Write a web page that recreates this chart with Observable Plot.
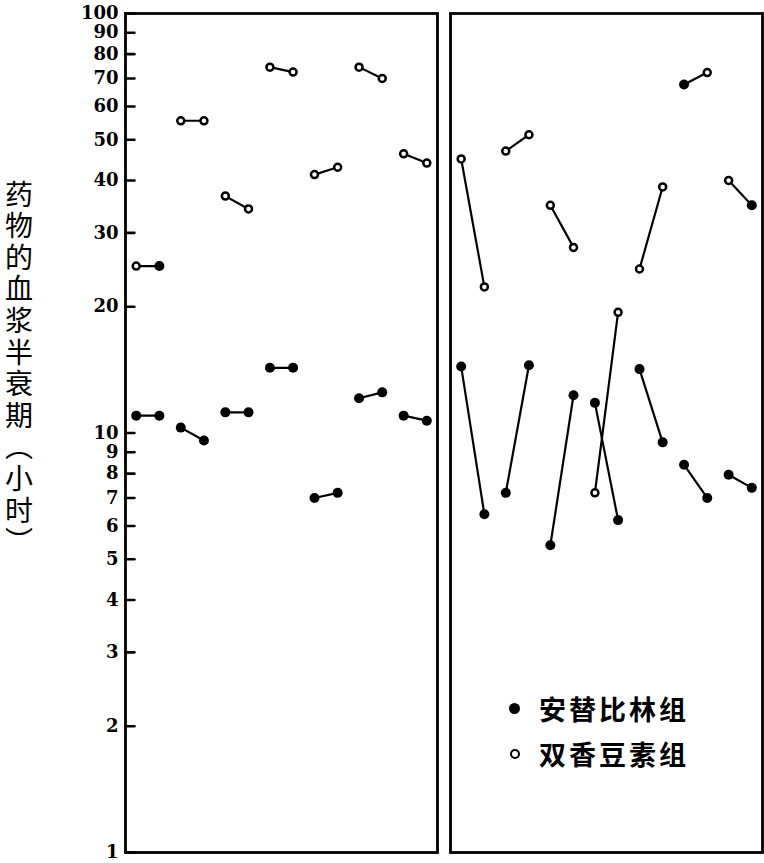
<!DOCTYPE html>
<html>
<head>
<meta charset="utf-8">
<script src="https://cdn.jsdelivr.net/npm/d3@7"></script>
<script src="https://cdn.jsdelivr.net/npm/@observablehq/plot@0.6"></script>
<style>
  body { margin: 0; background: #fff; }
  #wrap { position: relative; width: 764px; height: 863px; background: #fff; }
  #ytitle {
    position: absolute; left: 2px; top: 180px; width: 34px; height: 400px;
    writing-mode: vertical-rl; text-orientation: upright;
    font-family: "Noto Sans CJK SC"; font-size: 28px; line-height: 34px;
    letter-spacing: 3.6px; color: #000;
  }
  #legend { position: absolute; left: 509px; top: 686px; font-family: "Noto Sans CJK SC"; font-weight: bold; font-size: 27px; letter-spacing: 3px; color: #000; }
  #legend .row { height: 45px; display: flex; align-items: center; }
  #legend .sw { display: inline-block; box-sizing: border-box; border-radius: 50%; margin-right: 19px; }
  #legend .solid { width: 11px; height: 11px; background: #000; }
  #legend .open { width: 10px; height: 10px; border: 2.5px solid #000; background: #fff; margin-left: 1px; margin-right: 19px; }
</style>
</head>
<body>
<div id="wrap">
  <div id="ytitle">药物的血浆半衰期︵小时︶</div>
  <div id="legend">
    <div class="row"><span class="sw solid"></span>安替比林组</div>
    <div class="row"><span class="sw open"></span>双香豆素组</div>
  </div>
</div>
<script>
// Plasma half-lives (hours) of antipyrine and dicoumarol, two determinations per subject.
const panels = ["left", "right"];
const subjects = [1, 2, 3, 4, 5, 6, 7];
const yTicks = [1, 2, 3, 4, 5, 6, 7, 8, 9, 10, 20, 30, 40, 50, 60, 70, 80, 90, 100];

// [first, second] determination for each subject
const leftDicoumarol  = [[25, 25], [55.5, 55.5], [36.7, 34.2], [74.5, 72.5], [41.3, 43], [74.5, 70], [46.3, 44]];
const leftAntipyrine  = [[11, 11], [10.3, 9.6], [11.2, 11.2], [14.3, 14.3], [7.0, 7.2], [12.1, 12.5], [11, 10.7]];
const rightDicoumarol = [[45, 22.3], [47, 51.4], [34.9, 27.7], [7.2, 19.4], [24.6, 38.6], [67.7, 72.3], [40, 34.9]];
const rightAntipyrine = [[14.4, 6.4], [7.2, 14.5], [5.4, 12.3], [11.8, 6.2], [14.2, 9.5], [8.4, 7.0], [7.95, 7.4]];

// dicoumarol points that are printed as solid markers: [panel, subject, determination]
const solidDicoumarol = [["left", 1, 2], ["right", 6, 1], ["right", 7, 2]];

const series = [
  {panel: "left", group: "双香豆素组", values: leftDicoumarol},
  {panel: "left", group: "安替比林组", values: leftAntipyrine},
  {panel: "right", group: "双香豆素组", values: rightDicoumarol},
  {panel: "right", group: "安替比林组", values: rightAntipyrine}
];

const points = [];
for (const s of series) {
  s.values.forEach((pair, i) => {
    pair.forEach((v, k) => {
      const subject = subjects[i];
      let solid = s.group === "安替比林组";
      if (!solid && solidDicoumarol.some(([p, sub, det]) => p === s.panel && sub === subject && det === k + 1)) solid = true;
      points.push({
        panel: s.panel, group: s.group, subject,
        pair: `${s.panel}-${s.group}-${subject}`,
        slot: i + (k === 0 ? -0.26 : 0.26),
        value: v, solid
      });
    });
  });
}

const slotDomain = [-0.5, subjects.length - 0.5];
const tickLength = 0.2; // in subject-slot units, about 9px

// y-axis tick labels and tick stubs live on the left panel only
const tickRows = yTicks.map(v => ({panel: panels[0], value: v}));
const tickSegments = yTicks.flatMap(v => [
  {panel: panels[0], tick: v, slot: slotDomain[0], value: v},
  {panel: panels[0], tick: v, slot: slotDomain[0] + tickLength, value: v}
]);

const chart = Plot.plot({
  width: 764,
  height: 863,
  marginTop: 13,
  marginBottom: 11,
  marginLeft: 125,
  marginRight: 2,
  style: {background: "white", color: "black", overflow: "visible"},
  fx: {domain: panels, axis: null, paddingInner: 0.04, paddingOuter: 0},
  x: {domain: slotDomain, axis: null},
  y: {type: "log", domain: [1, 100], axis: null},
  marks: [
    Plot.frame({stroke: "black", strokeWidth: 2.8}),
    Plot.line(tickSegments, {fx: "panel", x: "slot", y: "value", z: "tick", stroke: "black", strokeWidth: 2.6}),
    Plot.text(tickRows, {
      fx: "panel", y: "value", text: d => String(d.value),
      frameAnchor: "left", textAnchor: "end", dx: -7,
      fontSize: 18, fontWeight: "bold", fontFamily: "DejaVu Serif", fill: "black"
    }),
    Plot.line(points, {fx: "panel", x: "slot", y: "value", z: "pair", stroke: "black", strokeWidth: 2.2}),
    Plot.dot(points, {fx: "panel", filter: d => d.solid, x: "slot", y: "value", r: 5, fill: "black"}),
    Plot.dot(points, {fx: "panel", filter: d => !d.solid, x: "slot", y: "value", r: 3.5, fill: "white", stroke: "black", strokeWidth: 2.5})
  ]
});

document.getElementById("wrap").prepend(chart);
</script>
</body>
</html>
